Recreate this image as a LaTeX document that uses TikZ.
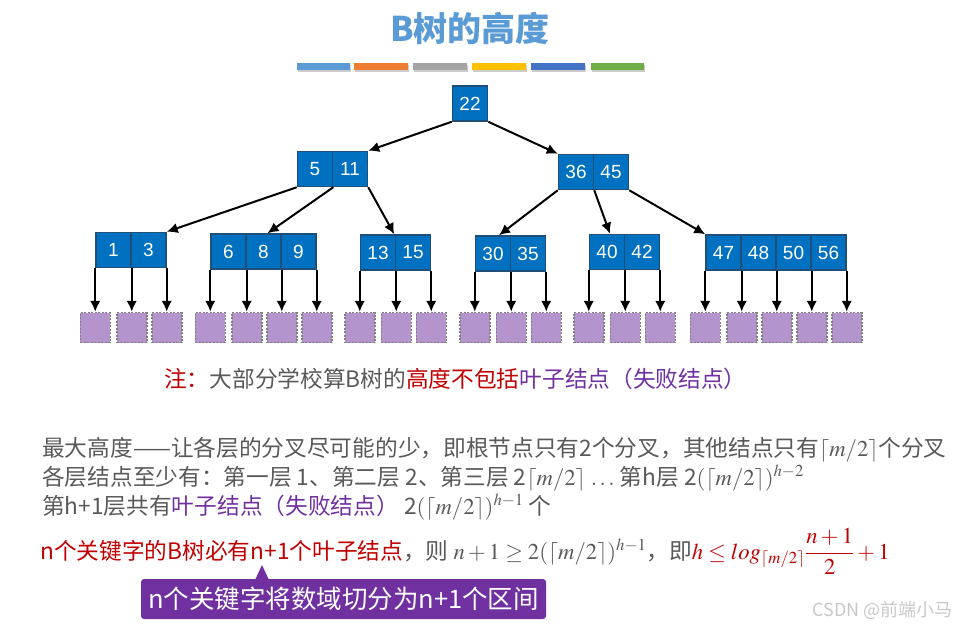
\documentclass[tikz,border=0pt]{standalone}
\usepackage{mathptmx}
\usepackage{fontspec}
\setmainfont{Noto Sans CJK SC}
\newfontfamily\numfont{Liberation Sans}
\usetikzlibrary{arrows.meta,calc}
\definecolor{tblue}{HTML}{5B9BD5}
\definecolor{barA}{HTML}{5B9BD5}
\definecolor{barB}{HTML}{ED7D31}
\definecolor{barC}{HTML}{A5A5A5}
\definecolor{barD}{HTML}{FFC000}
\definecolor{barE}{HTML}{4472C4}
\definecolor{barF}{HTML}{70AD47}
\definecolor{keyfill}{HTML}{0070C0}
\definecolor{keyborder}{HTML}{1F4E79}
\definecolor{leaffill}{HTML}{B494CC}
\definecolor{leafborder}{HTML}{7F7F7F}
\definecolor{tgray}{HTML}{595959}
\definecolor{tred}{HTML}{C00000}
\definecolor{tpurple}{HTML}{7030A0}
\definecolor{wmark}{HTML}{C8C8C8}
\tikzset{
  keybox/.style={draw=keyborder, fill=keyfill, line width=1.5pt, minimum width=35pt, minimum height=35pt, inner sep=0pt, text=white, font=\numfont\fontsize{19}{19}\selectfont},
  leafbox/.style={draw=leafborder, fill=leaffill, dash pattern=on 2pt off 1.5pt, line width=1.5pt, minimum size=30pt, inner sep=0pt},
  edge/.style={-{Latex[length=11pt,width=10.5pt]}, line width=2pt},
  txt/.style={anchor=base west, inner sep=0pt, font=\fontsize{22.7}{26}\selectfont, text=tgray}
}
\begin{document}
\begin{tikzpicture}[x=1pt,y=-1pt]
\useasboundingbox (0,0) rectangle (959,627);
% title
\node[font=\bfseries\fontsize{34}{36}\selectfont, text=tblue] (title) at (470,28) {B树的高度};
% color bars
\foreach \c/\xa/\xb [count=\i] in {barA/297/350, barB/354/408, barC/413/467, barD/472/526, barE/531/585, barF/591/644}{
  \fill[black!20] (\xa+1,64.5) rectangle (\xb+1,72);
  \fill[\c] (\xa,63) rectangle (\xb,70);
}
% keys
\node[keybox] (k22) at (470,103.5) {22};
\node[keybox] (k5) at (315,169) {5};
\node[keybox] (k11) at (350,169) {11};
\node[keybox] (k36) at (576,172) {36};
\node[keybox] (k45) at (611,172) {45};
\node[keybox] (k1) at (113.5,250) {1};
\node[keybox] (k3) at (148.5,250) {3};
\node[keybox] (k6) at (228.5,251.5) {6};
\node[keybox] (k8) at (263.5,251.5) {8};
\node[keybox] (k9) at (298.5,251.5) {9};
\node[keybox] (k13) at (378,252.5) {13};
\node[keybox] (k15) at (413,252.5) {15};
\node[keybox] (k30) at (493,253.5) {30};
\node[keybox] (k35) at (528,253.5) {35};
\node[keybox] (k40) at (607,252) {40};
\node[keybox] (k42) at (642,252) {42};
\node[keybox] (k47) at (723.5,252.5) {47};
\node[keybox] (k48) at (758.5,252.5) {48};
\node[keybox] (k50) at (793.5,252.5) {50};
\node[keybox] (k56) at (828.5,252.5) {56};
% tree edges
\draw[edge] (k22.south west) -- (k11.north east);
\draw[edge] (k22.south east) -- (k36.north west);
\draw[edge] (k5.south west) -- (k3.north east);
\draw[edge] (k5.south east) -- ([xshift=4pt]k8.north);
\draw[edge] (k11.south east) -- ([xshift=-2pt]k13.north east);
\draw[edge] (k36.south west) -- ([xshift=6pt]k30.north);
\draw[edge] (k36.south east) -- ([xshift=3pt]k40.north);
\draw[edge] (k45.south east) -- (k47.north west);
% leaves
\foreach \c/\a [count=\i] in {k1/south west, k1/south east, k3/south east,
  k6/south west, k6/south east, k8/south east, k9/south east,
  k13/south west, k13/south east, k15/south east,
  k30/south west, k30/south east, k35/south east,
  k40/south west, k40/south east, k42/south east,
  k47/south west, k47/south east, k48/south east, k50/south east, k56/south east}{
  \node[leafbox] (leaf\i) at (\c.\a |- 0,327.5) {};
  \draw[edge] (\c.\a) -- (leaf\i.north);
}
% note
\node[txt] (note) at (164,387) {\textcolor{tred}{注：}大部分学校算B树的\textcolor{tred}{高度不包括}\textcolor{tpurple}{叶子结点（失败结点）}};
% body lines
\node[txt] (t1) at (42,456) {最大高度——让各层的分叉尽可能的少，即根节点只有2个分叉，其他结点只有$\lceil m/2\rceil$个分叉};
\node[txt] (t2) at (42,485) {各层结点至少有：第一层 1、第二层 2、第三层 2$\lceil m/2\rceil$ $\ldots$ 第h层 2$(\lceil m/2\rceil)^{h-2}$};
\node[txt] (t3) at (42,514) {第h+1层共有\textcolor{tpurple}{叶子结点（失败结点）} 2$(\lceil m/2\rceil)^{h-1}$ 个};
\node[txt] (t4) at (40,559) {\textcolor{tred}{n个关键字的B树必有n+1个叶子结点}，则 $n+1\geq 2(\lceil m/2\rceil)^{h-1}$，即\textcolor{tred}{$h\leq log_{\lceil m/2\rceil}\displaystyle\frac{n+1}{2}+1$}};
% callout
\node[fill=tpurple, rounded corners=3pt, minimum width=405pt, minimum height=40pt, inner sep=0pt, text=white, font=\fontsize{25.5}{28}\selectfont] (callout) at (343.5,599) {n个关键字将数域切分为n+1个区间};
\coordinate (ptip) at (262,565);
\fill[tpurple] ($(ptip)+(-7,15)$) -- (ptip) -- ($(ptip)+(7,15)$) -- cycle;
% watermark
\node[anchor=east, inner sep=0pt, text=wmark, font=\fontsize{18}{19}\selectfont] (wm) at (953,610) {CSDN @前端小马};
\end{tikzpicture}
\end{document}
